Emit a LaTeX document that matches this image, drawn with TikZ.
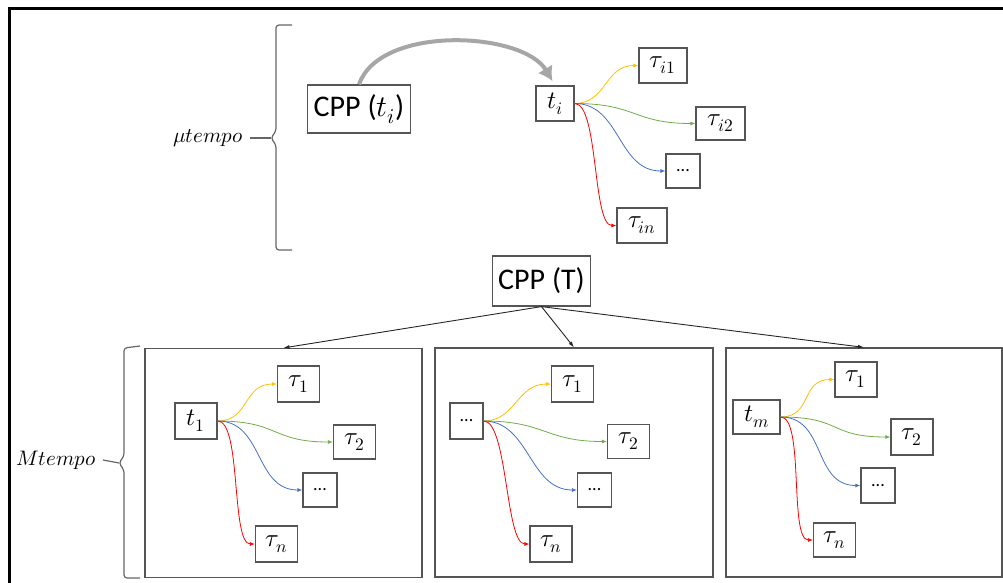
\documentclass[tikz,border=0pt]{standalone}
\usepackage{fontspec}
\usepackage{unicode-math}
\setmathfont{Latin Modern Math}
\newfontfamily\calibri{Carlito}
\usetikzlibrary{arrows.meta}
\definecolor{boxgray}{HTML}{555555}
\definecolor{arrowgray}{HTML}{A6A6A6}
\definecolor{fanyellow}{HTML}{FFC000}
\definecolor{fangreen}{HTML}{70AD47}
\definecolor{fanblue}{HTML}{4472C4}
\definecolor{fanred}{HTML}{FF0000}
\tikzset{
cppnode/.style={
  draw=boxgray,
  line width=1.2pt,
  font=\calibri\fontsize{30}{34}\selectfont,
  inner xsep=6pt,
  minimum height=48pt
},
fanbox/.style={
  draw=boxgray,
  line width=1.2pt,
  font=\fontsize{25}{29}\selectfont,
  minimum width=42pt,
  minimum height=35pt,
  inner sep=2pt
},
dotbox/.style={
  fanbox,
  font=\calibri\fontsize{18}{22}\selectfont,
  minimum width=34pt,
  minimum height=34pt
},
panel/.style={
  draw=boxgray,
  line width=1.2pt,
  minimum width=277pt,
  minimum height=229pt
},
fanarrow/.style={
  -{Latex[length=5pt,width=4pt]},
  line width=0.8pt
},
treearrow/.style={
  -{Latex[length=6pt,width=4pt]},
  line width=0.9pt,
  draw=black!85
},
bracket/.style={
  draw=black!60,
  line width=1.2pt,
  rounded corners=3pt
},
scalelabel/.style={
  font=\fontsize{21}{25}\selectfont,
  inner sep=7pt
}
}

\begin{document}
\begin{tikzpicture}[x=1pt,y=-1pt]

\useasboundingbox (0,0) rectangle (1003,583);
\draw[line width=3pt] (9,600) -- (9,9) -- (1020,9);

% micro scale
\node[cppnode] (cppti) at (359,109) {CPP ($t_i$)};
\node[fanbox, minimum width=38pt] (ti) at (555,103.5) {$t_i$};
\node[fanbox, minimum width=48pt] (ti1) at (663,65.5) {$\tau_{i1}$};
\node[fanbox, minimum width=49pt, minimum height=33pt] (ti2) at (720.5,123.5) {$\tau_{i2}$};
\node[dotbox] (tidots) at (683,171) {...};
\node[fanbox, minimum width=50pt] (tin) at (642,225.5) {$\tau_{in}$};

\draw[line width=4pt, draw=arrowgray, -{Latex[length=14pt,width=17pt]}, shorten >=5pt] (cppti.north) .. controls +(21,-60) and +(-32,-54) .. (ti.north);

\draw[fanarrow, fanyellow] (ti.east) .. controls +(32,0) and +(-34,0) .. (ti1.west);
\draw[fanarrow, fangreen] (ti.east) .. controls +(62,0) and +(-62,0) .. (ti2.west);
\draw[fanarrow, fanblue] (ti.east) .. controls +(46,0) and +(-48,0) .. (tidots.west);
\draw[fanarrow, fanred] (ti.east) .. controls +(24,0) and +(-24,0) .. (tin.west);

\draw[bracket] (292,25) -- (276,25) -- (276,131) -- (271,138) -- (276,145) -- (276,250) -- (292,250);
\coordinate (mutip) at (271,138);
\node[scalelabel] (mu) at (208,138) {$\mu tempo$};
\draw[bracket] (mu.east) -- (mutip);

% macro scale
\node[cppnode, minimum height=50pt] (cppT) at (541.5,281) {CPP (T)};

\node[panel] (p1) at (283.5,463) {};
\node[panel, minimum width=278pt] (p2) at (574,462.5) {};
\node[panel, minimum width=276pt] (p3) at (864,462.5) {};

\draw[treearrow] (cppT.south) -- (p1.north);
\draw[treearrow] (cppT.south) -- (p2.north);
\draw[treearrow] (cppT.south) -- (p3.north);

\draw[bracket] (140,346) -- (124,348) -- (124,456) -- (119,463) -- (124,470) -- (124,578) -- (140,578);
\coordinate (Mtip) at (119,463);
\node[scalelabel] (Mt) at (56,460) {$Mtempo$};
\draw[bracket] (Mt.east) -- (Mtip);

% first window
\node[fanbox, minimum height=36pt] (ta) at (196,421) {$t_1$};
\node[fanbox, minimum height=36pt] (ta1) at (298.5,384) {$\tau_1$};
\node[fanbox, minimum height=34pt] (ta2) at (354.5,442) {$\tau_2$};
\node[dotbox] (tadots) at (320,490) {...};
\node[fanbox, minimum height=36pt] (tan) at (276.5,544) {$\tau_n$};

\draw[fanarrow, fanyellow] (ta.east) .. controls +(32,0) and +(-34,0) .. (ta1.west);
\draw[fanarrow, fangreen] (ta.east) .. controls +(62,0) and +(-62,0) .. (ta2.west);
\draw[fanarrow, fanblue] (ta.east) .. controls +(46,0) and +(-48,0) .. (tadots.west);
\draw[fanarrow, fanred] (ta.east) .. controls +(24,0) and +(-24,0) .. (tan.west);

% middle window
\node[dotbox, minimum width=33pt, minimum height=36pt] (tb) at (466.5,421) {...};
\node[fanbox, minimum height=36pt] (tb1) at (572.5,384) {$\tau_1$};
\node[fanbox, minimum height=34pt] (tb2) at (628.5,441.5) {$\tau_2$};
\node[dotbox] (tbdots) at (594.5,490) {...};
\node[fanbox, minimum height=36pt] (tbn) at (551,544) {$\tau_n$};

\draw[fanarrow, fanyellow] (tb.east) .. controls +(32,0) and +(-34,0) .. (tb1.west);
\draw[fanarrow, fangreen] (tb.east) .. controls +(62,0) and +(-62,0) .. (tb2.west);
\draw[fanarrow, fanblue] (tb.east) .. controls +(46,0) and +(-48,0) .. (tbdots.west);
\draw[fanarrow, fanred] (tb.east) .. controls +(24,0) and +(-24,0) .. (tbn.west);

% last window
\node[fanbox, minimum width=47pt, minimum height=34pt] (tm) at (756.5,417) {$t_m$};
\node[fanbox] (tm1) at (856,379.5) {$\tau_1$};
\node[fanbox, minimum height=36pt] (tm2) at (912,437) {$\tau_2$};
\node[dotbox, minimum height=35pt] (tmdots) at (878,485.5) {...};
\node[fanbox, minimum height=34pt] (tmn) at (834.5,540) {$\tau_n$};

\draw[fanarrow, fanyellow] (tm.east) .. controls +(32,0) and +(-34,0) .. (tm1.west);
\draw[fanarrow, fangreen] (tm.east) .. controls +(62,0) and +(-62,0) .. (tm2.west);
\draw[fanarrow, fanblue] (tm.east) .. controls +(46,0) and +(-48,0) .. (tmdots.west);
\draw[fanarrow, fanred] (tm.east) .. controls +(24,0) and +(-24,0) .. (tmn.west);

\end{tikzpicture}
\end{document}
